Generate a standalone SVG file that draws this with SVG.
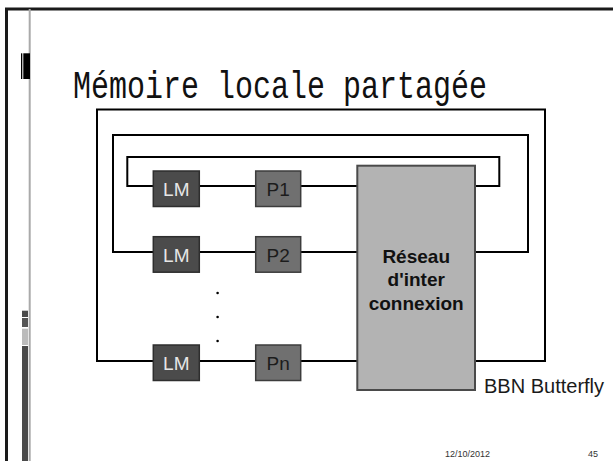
<svg xmlns="http://www.w3.org/2000/svg" width="613" height="461" viewBox="0 0 613 461">
  <style>
    .wire { fill: none; stroke: #000; stroke-width: 2; }
    .lm { fill: #4b4b4b; stroke: #2e2e2e; stroke-width: 1.5; }
    .proc { fill: #707070; stroke: #3c3c3c; stroke-width: 1.5; }
    .net { fill: #b3b3b3; stroke: #4a4a4a; stroke-width: 2; }
    .lbl { font-family: "Liberation Sans", Arial, sans-serif; font-size: 19px; text-anchor: middle; }
    .lm-t { fill: #e6e6e6; }
    .p-t { fill: #1c1c1c; }
    .net-t { font-family: "Liberation Sans", Arial, sans-serif; font-size: 19px; font-weight: bold; fill: #111; text-anchor: middle; }
    .foot { font-family: "Liberation Sans", Arial, sans-serif; font-size: 9px; fill: #333; }
  </style>

  <rect width="613" height="461" fill="#fff"/>

  <!-- slide frame -->
  <g id="frame">
    <path d="M6.5,461 V9 H613" fill="none" stroke="#1a1a1a" stroke-width="3"/>
    <line x1="29.7" y1="9" x2="29.7" y2="461" stroke="#aaaaaa" stroke-width="2"/>
    <rect x="21" y="53.3" width="1.3" height="25.7" fill="#000"/>
    <rect x="23.3" y="53.3" width="6.7" height="25.7" fill="#000"/>
    <rect x="22" y="310.7" width="6" height="6.3" fill="#4a4a4a"/>
    <rect x="22" y="318" width="6" height="9" fill="#555"/>
    <rect x="22" y="328.7" width="6" height="16.3" fill="#bbbbbb"/>
    <rect x="22" y="346" width="6" height="115" fill="#4a4a4a"/>
  </g>

  <text id="title" x="73" y="98" font-family="Liberation Mono, DejaVu Sans Mono, monospace" font-size="38" fill="#111" textLength="414" lengthAdjust="spacingAndGlyphs">Mémoire locale partagée</text>

  <!-- connectors -->
  <g id="connectors" class="wire">
    <path d="M153,361 H97 V109.5 H545 V361 H475"/>
    <path d="M153,252 H113 V135 H528 V252 H475"/>
    <path d="M153,186 H127.3 V157 H499.3 V186 H475"/>
    <path d="M199,186 H256 M301,186 H357"/>
    <path d="M199,252 H256 M301,252 H357"/>
    <path d="M199,361 H256 M301,361 H357"/>
  </g>

  <!-- ellipsis between rows -->
  <g id="ellipsis" fill="#000">
    <circle cx="217.6" cy="293" r="1.3"/>
    <circle cx="217.6" cy="317" r="1.3"/>
    <circle cx="217.6" cy="341" r="1.3"/>
  </g>

  <g id="lm1"><rect class="lm" x="153.3" y="171" width="46" height="35.5"/><text class="lbl lm-t" x="176.3" y="196">LM</text></g>
  <g id="lm2"><rect class="lm" x="153.3" y="236.7" width="46" height="35.5"/><text class="lbl lm-t" x="176.3" y="261.7">LM</text></g>
  <g id="lmn"><rect class="lm" x="153.3" y="345" width="46" height="35.5"/><text class="lbl lm-t" x="176.3" y="370">LM</text></g>

  <g id="p1"><rect class="proc" x="255.7" y="171" width="45" height="35.5"/><text class="lbl p-t" x="278.2" y="196">P1</text></g>
  <g id="p2"><rect class="proc" x="255.7" y="236.7" width="45" height="35.5"/><text class="lbl p-t" x="278.2" y="261.7">P2</text></g>
  <g id="pn"><rect class="proc" x="255.7" y="345" width="45" height="35.5"/><text class="lbl p-t" x="278.2" y="370">Pn</text></g>

  <g id="network">
    <rect class="net" x="357.3" y="165.7" width="117.7" height="224.3"/>
    <text class="net-t" x="416.2" y="262.7">Réseau</text>
    <text class="net-t" x="416.2" y="286">d'inter</text>
    <text class="net-t" x="416.2" y="310">connexion</text>
  </g>

  <text id="caption" x="484" y="392.5" font-family="Liberation Sans, Arial, sans-serif" font-size="20" fill="#1a1a1a">BBN Butterfly</text>

  <text class="foot" x="445" y="456.5">12/10/2012</text>
  <text class="foot" x="588" y="456.5">45</text>
</svg>
